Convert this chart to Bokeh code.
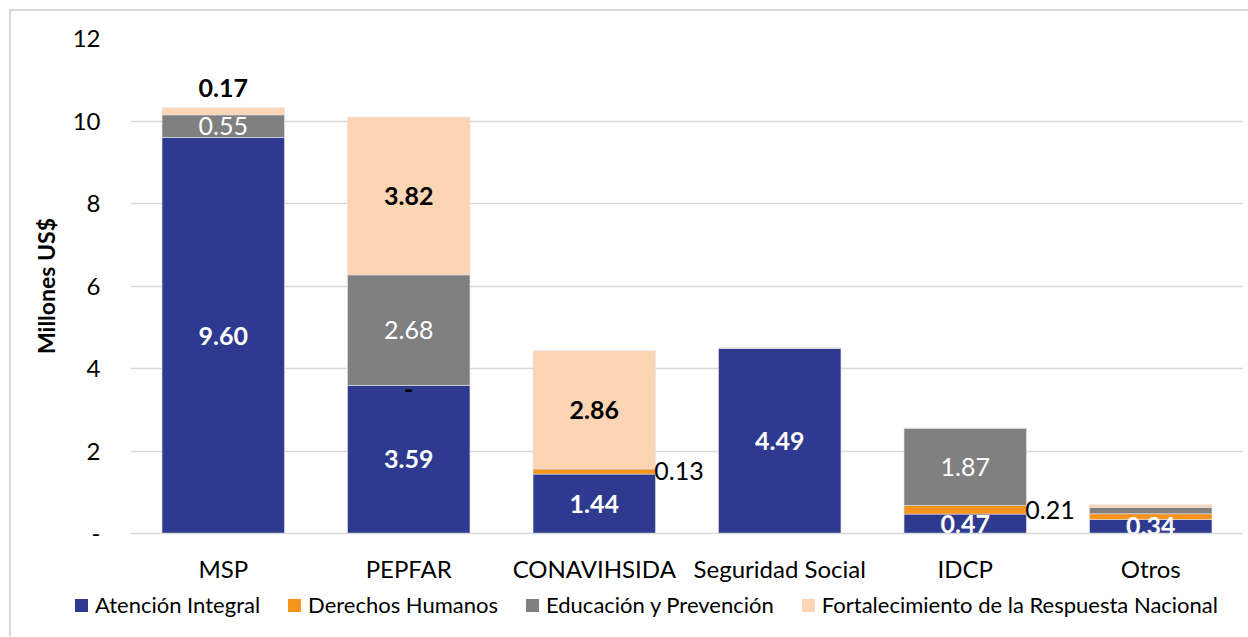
from bokeh.plotting import figure
from bokeh.layouts import column
from bokeh.models import (ColumnDataSource, FactorRange, LabelSet, FixedTicker, Range1d, Div)
from bokeh.embed import file_html
from bokeh.resources import INLINE
from bokeh.core.properties import value

# ---------------- data ----------------
categories = ["MSP", "PEPFAR", "CONAVIHSIDA", "Seguridad Social", "IDCP", "Otros"]
series = ["Atención Integral", "Derechos Humanos", "Educación y Prevención",
          "Fortalecimiento de la Respuesta Nacional"]
atencion = [9.60, 3.59, 1.44, 4.49, 0.47, 0.34]
derechos = [0.0, 0.0, 0.13, 0.0, 0.21, 0.14]
educacion = [0.55, 2.68, 0.0, 0.0, 1.87, 0.15]
fortalecimiento = [0.17, 3.82, 2.86, 0.0, 0.0, 0.07]

atencion_labels = ["9.60", "3.59", "1.44", "4.49", "0.47", "0.34"]
derechos_labels = ["", "-", "0.13", "", "0.21", ""]
educacion_labels = ["0.55", "2.68", "", "", "1.87", ""]
fortalecimiento_labels = ["0.17", "3.82", "2.86", "", "", ""]

y_ticks = [0, 2, 4, 6, 8, 10, 12]
y_tick_labels = ["-", "2", "4", "6", "8", "10", "12"]

colors = ["#2E3A8F", "#F7941D", "#808080", "#FCD5B5"]
FONT = "Lato"

keys = ["atencion", "derechos", "educacion", "fortalecimiento"]
src = ColumnDataSource(dict(cat=categories, atencion=atencion, derechos=derechos,
                            educacion=educacion, fortalecimiento=fortalecimiento))

fig = figure(x_range=FactorRange(*categories, range_padding=0), y_range=Range1d(0, 12),
             width=1232, height=575, output_backend="svg", toolbar_location=None,
             min_border_left=119, min_border_right=0, min_border_top=27, min_border_bottom=53)
fig.outline_line_color = None
fig.background_fill_color = "white"
fig.border_fill_color = "white"

renderers = fig.vbar_stack(keys, x="cat", width=0.66, source=src, color=colors,
                           line_color="#e0e0e0", line_width=0.6)

# ---------------- axes ----------------
fig.yaxis.ticker = FixedTicker(ticks=y_ticks)
fig.yaxis.major_label_overrides = dict(zip(y_ticks, y_tick_labels))
fig.yaxis.axis_line_color = None
fig.yaxis.major_tick_line_color = None
fig.yaxis.major_tick_out = 0
fig.yaxis.major_tick_in = 0
fig.yaxis.minor_tick_line_color = None
fig.yaxis.major_label_standoff = 30
fig.yaxis.major_label_text_font = FONT
fig.yaxis.major_label_text_font_size = "24px"
fig.yaxis.major_label_text_color = "black"
fig.yaxis.axis_label = "Millones US$"
fig.yaxis.axis_label_text_font = FONT
fig.yaxis.axis_label_text_font_style = "bold"
fig.yaxis.axis_label_text_font_size = "23px"
fig.yaxis.axis_label_text_color = "black"
fig.yaxis.axis_label_standoff = 10

fig.xaxis.axis_line_color = "#d9d9d9"
fig.xaxis.axis_line_width = 1.5
fig.xaxis.major_tick_line_color = None
fig.xaxis.major_tick_out = 0
fig.xaxis.major_tick_in = 0
fig.xaxis.minor_tick_line_color = None
fig.xaxis.major_label_text_font = FONT
fig.xaxis.major_label_text_font_size = "24px"
fig.xaxis.major_label_text_color = "black"
fig.xaxis.major_label_standoff = 20

fig.xgrid.grid_line_color = None
fig.ygrid.grid_line_color = "#d9d9d9"
fig.ygrid.grid_line_width = 1.3

# ---------------- data labels ----------------
def add_labels(xs, ys, texts, color, style, align="center", x_offset=0, y_offset=0):
    s = ColumnDataSource(dict(x=xs, y=ys, t=texts))
    fig.add_layout(LabelSet(x="x", y="y", text="t", source=s, text_align=align,
                            text_baseline="middle", text_color=color,
                            text_font=value(FONT), text_font_size="25px",
                            text_font_style=style, x_offset=x_offset, y_offset=y_offset))

b0 = [0.0] * len(categories)
b1 = [a for a in atencion]
b2 = [a + d for a, d in zip(b1, derechos)]
b3 = [a + e for a, e in zip(b2, educacion)]
tops = [a + f for a, f in zip(b3, fortalecimiento)]

# Atención Integral: white bold, centred
add_labels(categories, [(a + b) / 2 for a, b in zip(b0, b1)], atencion_labels, "white", "bold")

# Derechos Humanos: black, right of bar (small), centred when zero
dh_c_x, dh_c_y, dh_c_t, dh_r_x, dh_r_y, dh_r_t = [], [], [], [], [], []
for c, lo, hi, t, v in zip(categories, b1, b2, derechos_labels, derechos):
    if not t:
        continue
    if v == 0:
        dh_c_x.append(c); dh_c_y.append(lo); dh_c_t.append(t)
    else:
        dh_r_x.append(c); dh_r_y.append((lo + hi) / 2); dh_r_t.append(t)
add_labels(dh_c_x, dh_c_y, dh_c_t, "black", "bold", y_offset=-4)
add_labels(dh_r_x, dh_r_y, dh_r_t, "black", "normal", align="left", x_offset=60)

# Educación y Prevención: white normal, centred
add_labels(categories, [(a + b) / 2 for a, b in zip(b2, b3)], educacion_labels, "white", "normal")

# Fortalecimiento: black bold, centred (small -> above bar)
fr_c_x, fr_c_y, fr_c_t, fr_a_x, fr_a_y, fr_a_t = [], [], [], [], [], []
for c, lo, hi, t, v in zip(categories, b3, tops, fortalecimiento_labels, fortalecimiento):
    if not t:
        continue
    if v < 0.5:
        fr_a_x.append(c); fr_a_y.append(hi); fr_a_t.append(t)
    else:
        fr_c_x.append(c); fr_c_y.append((lo + hi) / 2); fr_c_t.append(t)
add_labels(fr_c_x, fr_c_y, fr_c_t, "black", "bold")
add_labels(fr_a_x, fr_a_y, fr_a_t, "black", "bold", y_offset=20)

# ---------------- legend (HTML strip) ----------------
items_html = "".join(
    f'<span style="display:inline-flex;align-items:center;margin-right:28px;">'
    f'<span style="display:inline-block;width:13px;height:13px;background:{c};margin-right:7px;"></span>'
    f'<span>{s}</span></span>'
    for s, c in zip(series, colors))
legend_div = Div(
    text=f'<div style="display:flex;align-items:center;height:28px;padding-left:59px;'
         f'font-family:Lato;font-size:22px;color:black;white-space:nowrap;">{items_html}</div>',
    width=1232, height=40)

p = column(fig, legend_div, spacing=0)
p.styles = {"border-left": "2px solid #d9d9d9", "border-top": "2px solid #d9d9d9",
            "margin-left": "9px", "margin-top": "9px"}

open("out.html", "w").write(file_html(p, INLINE))
